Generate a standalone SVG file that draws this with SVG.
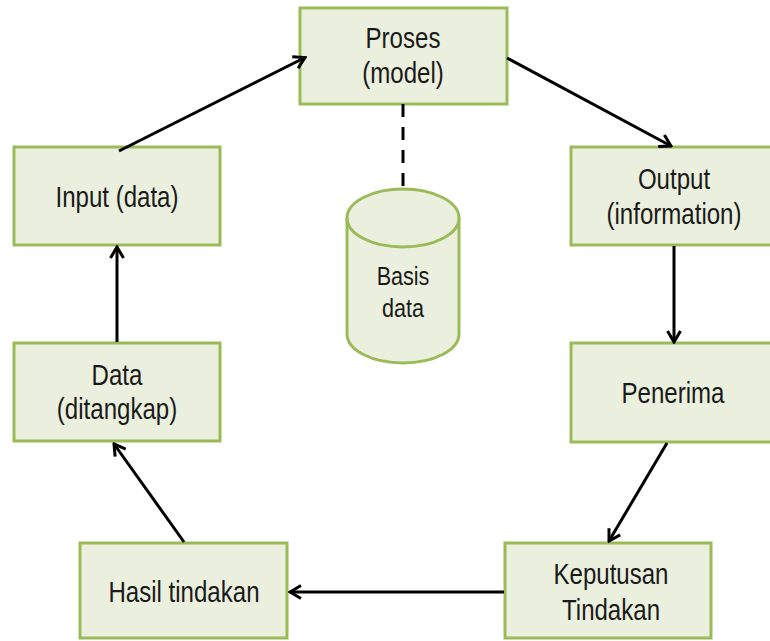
<svg xmlns="http://www.w3.org/2000/svg" width="770" height="641" viewBox="0 0 770 641">
<style>
.box{fill:#EBEFDD;stroke:#9BBB59;stroke-width:3}
.t{font-family:"Liberation Sans",Arial,sans-serif;font-size:29px;fill:#1a1a1a;text-anchor:middle}
.ts{font-family:"Liberation Sans",Arial,sans-serif;font-size:26px;fill:#1a1a1a;text-anchor:middle}
.c{stroke:#000;stroke-width:3;fill:none;marker-end:url(#ah)}
</style>
<defs>
<marker id="ah" markerUnits="userSpaceOnUse" viewBox="-14 -9 16 18" refX="0" refY="0" markerWidth="16" markerHeight="18" orient="auto">
<path d="M-11,-6.5 L0,0 L-11,6.5" fill="none" stroke="#000" stroke-width="3"/>
</marker>
</defs>
<rect width="770" height="641" fill="#fff"/>
<g id="proses">
<rect class="box" x="300" y="8" width="207" height="96"/>
<text class="t" transform="translate(403,48) scale(0.83,1)">Proses</text>
<text class="t" transform="translate(403,83) scale(0.83,1)">(model)</text>
</g>
<g id="input">
<rect class="box" x="14" y="147" width="206" height="98"/>
<text class="t" transform="translate(117,207) scale(0.83,1)">Input (data)</text>
</g>
<g id="output">
<rect class="box" x="571" y="147" width="206" height="98"/>
<text class="t" transform="translate(674,189) scale(0.83,1)">Output</text>
<text class="t" transform="translate(674,224) scale(0.83,1)">(information)</text>
</g>
<g id="data">
<rect class="box" x="14" y="343" width="206" height="98"/>
<text class="t" transform="translate(117,385) scale(0.83,1)">Data</text>
<text class="t" transform="translate(117,419) scale(0.83,1)">(ditangkap)</text>
</g>
<g id="penerima">
<rect class="box" x="571" y="343" width="206" height="99"/>
<text class="t" transform="translate(673,403) scale(0.83,1)">Penerima</text>
</g>
<g id="hasil">
<rect class="box" x="80" y="543" width="207" height="95"/>
<text class="t" transform="translate(184,602) scale(0.83,1)">Hasil tindakan</text>
</g>
<g id="keputusan">
<rect class="box" x="505" y="543" width="206" height="95"/>
<text class="t" transform="translate(611,584) scale(0.83,1)">Keputusan</text>
<text class="t" transform="translate(611,620) scale(0.83,1)">Tindakan</text>
</g>
<g id="basis-data">
<path class="box" d="M347,218 L347,334 A56,29 0 0 0 459,334 L459,218 A56,29 0 0 0 347,218 Z"/>
<path d="M347,218 A56,29 0 0 0 459,218" fill="none" stroke="#9BBB59" stroke-width="3"/>
<text class="ts" transform="translate(403,285) scale(0.83,1)">Basis</text>
<text class="ts" transform="translate(403,317) scale(0.83,1)">data</text>
</g>
<g id="connectors">
<line class="c" x1="119" y1="151" x2="305" y2="57.5"/>
<line class="c" x1="507" y1="58" x2="671" y2="146"/>
<line class="c" x1="674" y1="246" x2="674" y2="342"/>
<line class="c" x1="667" y1="443" x2="609" y2="541"/>
<line class="c" x1="504" y1="592" x2="290" y2="592"/>
<line class="c" x1="184" y1="542" x2="114" y2="444"/>
<line class="c" x1="117" y1="342" x2="117" y2="247"/>
<line x1="403" y1="104" x2="403" y2="189" stroke="#000" stroke-width="3" stroke-dasharray="13 10"/>
</g>
</svg>
